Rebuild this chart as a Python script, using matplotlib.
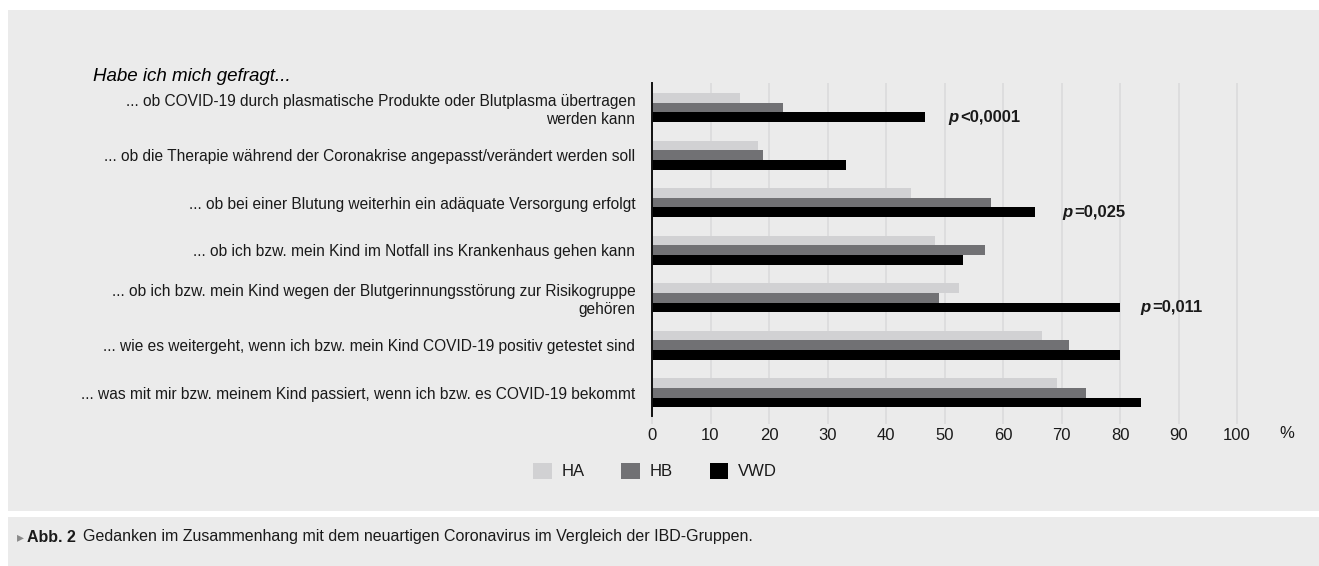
import matplotlib
matplotlib.use('Agg')
import matplotlib.pyplot as plt
from matplotlib import font_manager
from matplotlib.patches import Rectangle, Patch
import numpy as np

# pick a narrow font if one is there
names = set(f.name for f in font_manager.fontManager.ttflist)
if 'Liberation Sans Narrow' in names:
    base = 'Liberation Sans Narrow'
else:
    base = 'Liberation Sans'
plt.rcParams['font.family'] = [base, 'DejaVu Sans']

# data
questions = [
    '... ob COVID-19 durch plasmatische Produkte oder Blutplasma übertragen\nwerden kann',
    '... ob die Therapie während der Coronakrise angepasst/verändert werden soll',
    '... ob bei einer Blutung weiterhin ein adäquate Versorgung erfolgt',
    '... ob ich bzw. mein Kind im Notfall ins Krankenhaus gehen kann',
    '... ob ich bzw. mein Kind wegen der Blutgerinnungsstörung zur Risikogruppe\ngehören',
    '... wie es weitergeht, wenn ich bzw. mein Kind COVID-19 positiv getestet sind',
    '... was mit mir bzw. meinem Kind passiert, wenn ich bzw. es COVID-19 bekommt',
]
groups = ['HA', 'HB', 'VWD']
ha = [15.0, 18.1, 44.3, 48.3, 52.4, 66.7, 69.2]
hb = [22.4, 18.9, 58.0, 57.0, 49.1, 71.3, 74.2]
vwd = [46.7, 33.2, 65.5, 53.2, 80.0, 80.0, 83.6]
p_rows = [0, 2, 4]
p_texts = ['<0,0001', '=0,025', '=0,011']
xticks = [0, 10, 20, 30, 40, 50, 60, 70, 80, 90, 100]

# where the p labels start (x in %)
p_x = [50.6, 70.1, 83.4]

colors = ['#d1d1d3', '#717174', '#000000']
panel = '#ebebeb'
grid = '#d9d9db'
txt = '#1a1a1a'

fig = plt.figure(figsize=(13.19, 5.66), dpi=100)
fig.patch.set_facecolor('white')

# grey panels behind chart and caption
fig.add_artist(Rectangle((8/1319, 55/566), 1, 501/566, transform=fig.transFigure,
                         facecolor=panel, edgecolor='none', zorder=-10))
fig.add_artist(Rectangle((8/1319, 0), 1, 49/566, transform=fig.transFigure,
                         facecolor=panel, edgecolor='none', zorder=-10))

ax = fig.add_axes([652/1319, 1 - 416/566, 643.5/1319, 333/566])
ax.set_facecolor(panel)

y = np.arange(len(questions))
h = 0.203
for i, vals in enumerate([ha, hb, vwd]):
    ax.barh(y + (i - 1) * h, vals, height=h, color=colors[i], zorder=3)

ax.set_xlim(0, 110)
ax.set_ylim(6.488, -0.515)
ax.set_xticks(xticks)
ax.set_xticklabels([str(t) for t in xticks], fontsize=12, color=txt)
ax.tick_params(axis='x', length=6, width=1.1, color=grid, pad=3)
ax.set_yticks(y)
ax.set_yticklabels(questions, fontsize=11.2, color=txt, linespacing=1.25)
ax.tick_params(axis='y', length=0, pad=12)
ax.grid(axis='x', color=grid, linewidth=1.1, zorder=0)
ax.set_axisbelow(True)
for s in ['top', 'right', 'bottom']:
    ax.spines[s].set_visible(False)
ax.spines['left'].set_color('#111111')
ax.spines['left'].set_linewidth(1.4)
ax.spines['left'].set_zorder(5)

# unit label in the tick row
ax.annotate('%', xy=(108.5, 0), xycoords=('data', 'axes fraction'),
            xytext=(0, -7.5), textcoords='offset points', fontsize=12,
            color=txt, ha='center', va='top')

# p values
for r, s, xp in zip(p_rows, p_texts, p_x):
    t = ax.text(xp, r + h, 'p', fontsize=12, fontstyle='italic', fontweight='bold',
                color=txt, ha='left', va='center')
    ax.annotate(s, xy=(1, 0.5), xycoords=t, xytext=(1.5, 0),
                textcoords='offset points', fontsize=12, fontweight='bold',
                color=txt, ha='left', va='center')

fig.text(93/1319, 1 - 76/566, 'Habe ich mich gefragt...', fontsize=13.5,
         fontstyle='italic', color='#000000', ha='left', va='center')

handles = [Patch(facecolor=c, edgecolor='none') for c in colors]
fig.legend(handles, groups, loc='center', bbox_to_anchor=(655/1319, 1 - 471/566),
           ncol=3, frameon=False, fontsize=12, handlelength=1.1, handleheight=1.1,
           columnspacing=2.2, handletextpad=0.6, labelcolor=txt)

# caption
cy = 1 - 537/566
fig.text(17/1319, cy, '\u25B8', fontsize=10, color='#8a8a8a', ha='left', va='center',
         family=['DejaVu Sans'])
t2 = fig.text(27/1319, cy, 'Abb. 2', fontsize=11.5, fontweight='bold', color=txt,
              ha='left', va='center')
ax.annotate('Gedanken im Zusammenhang mit dem neuartigen Coronavirus im Vergleich der IBD-Gruppen.',
            xy=(1, 0.5), xycoords=t2, xytext=(5, 0), textcoords='offset points',
            fontsize=11.5, color=txt, ha='left', va='center', annotation_clip=False)

fig.savefig('out.png', dpi=100, facecolor=fig.get_facecolor())
